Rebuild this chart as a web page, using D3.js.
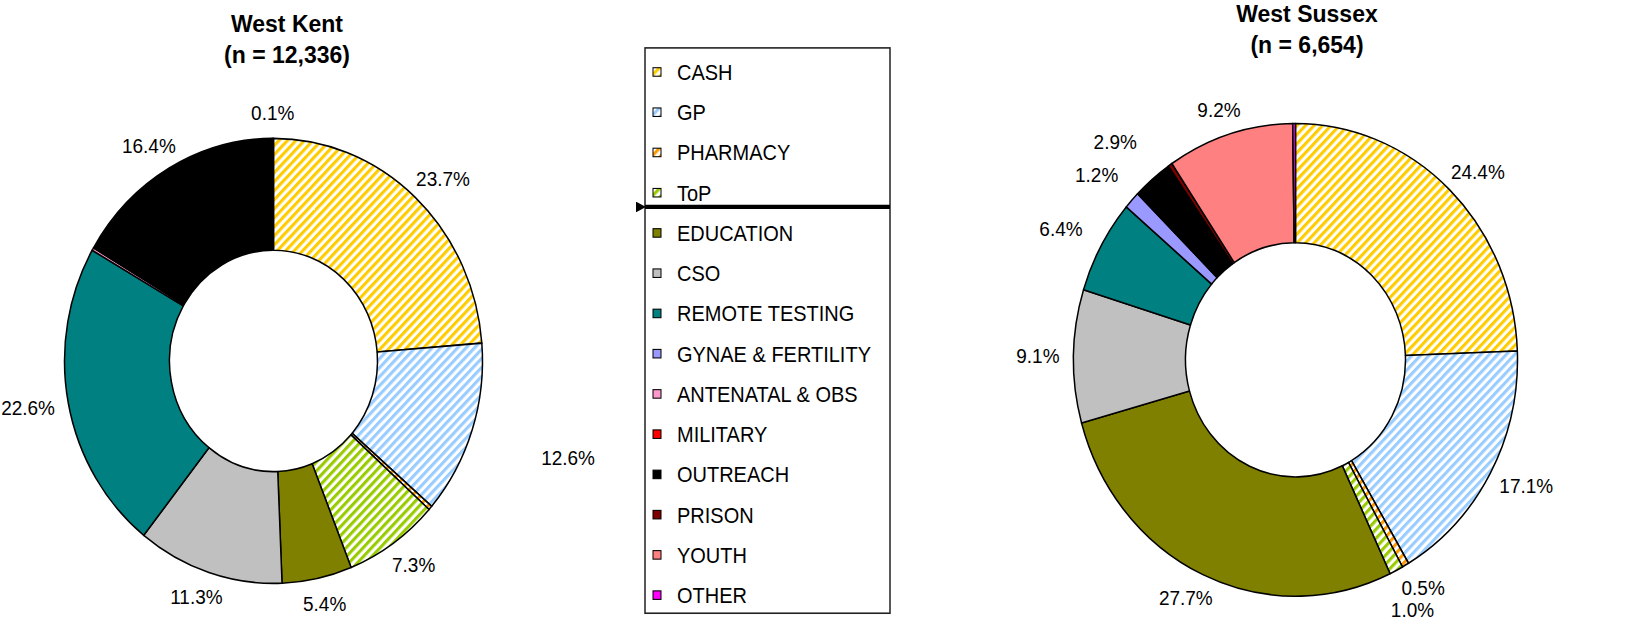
<!DOCTYPE html>
<html>
<head>
<meta charset="utf-8">
<script src="https://cdn.jsdelivr.net/npm/d3@7"></script>
<style>
  body { margin: 0; background: #fff; }
  svg { display: block; font-family: "Liberation Sans", Arial, sans-serif; }
</style>
</head>
<body>
<script>
// categories in legend / pie order
var categories = ["CASH", "GP", "PHARMACY", "ToP", "EDUCATION", "CSO", "REMOTE TESTING",
  "GYNAE & FERTILITY", "ANTENATAL & OBS", "MILITARY", "OUTREACH", "PRISON", "YOUTH", "OTHER"];
var colors = ["#FFCC00", "#99CCFF", "#FF9900", "#99CC00", "#808000", "#C0C0C0", "#008080",
  "#9999FF", "#FF99CC", "#FF0000", "#000000", "#800000", "#FF8080", "#FF00FF"];
var striped = ["CASH", "GP", "PHARMACY", "ToP"];

// percentages
var kentValues   = [23.7, 12.6, 0.3, 7.3, 5.4, 11.3, 22.6, 0, 0.2, 0, 16.4, 0, 0.1, 0];
var sussexValues = [24.4, 17.1, 0.5, 1.0, 27.7, 9.1, 6.4, 1.2, 0, 0, 2.9, 0.3, 9.2, 0.2];
var kentUnlabelled   = ["PHARMACY", "ANTENATAL & OBS"];
var sussexUnlabelled = ["PRISON", "OTHER"];

var width = 1628, height = 626, vbH = 588;

var svg = d3.select("body").append("svg")
    .attr("width", width)
    .attr("height", height)
    .attr("viewBox", "0 0 " + width + " " + vbH)
    .attr("preserveAspectRatio", "none");

var defs = svg.append("defs");
categories.forEach(function(c, i) {
  if (striped.indexOf(c) < 0) return;
  var p = defs.append("pattern")
      .attr("id", "stripe" + i)
      .attr("patternUnits", "userSpaceOnUse")
      .attr("width", 6).attr("height", 6)
      .attr("patternTransform", "rotate(45)");
  p.append("rect").attr("width", 6).attr("height", 6).attr("fill", "#fff");
  p.append("rect").attr("width", 3).attr("height", 6).attr("fill", colors[i]);
});

defs.append("marker")
    .attr("id", "arrowhead")
    .attr("viewBox", "0 0 10 10")
    .attr("refX", 1).attr("refY", 5)
    .attr("markerWidth", 2.5).attr("markerHeight", 2.5)
    .attr("orient", "auto-start-reverse")
  .append("path")
    .attr("d", "M0,5 L10,0 L10,10 Z")
    .attr("fill", "#000");

function fillFor(i) {
  return striped.indexOf(categories[i]) >= 0 ? "url(#stripe" + i + ")" : colors[i];
}

function drawDonut(values, unlabelled, nudges, opt) {
  var g = svg.append("g").attr("transform", "translate(" + opt.cx + "," + opt.cy + ")");

  var data = categories.map(function(c, i) { return { name: c, value: values[i], idx: i }; })
      .filter(function(d) { return d.value > 0; });

  var pie = d3.pie().sort(null).value(function(d) { return d.value; });
  var arc = d3.arc().innerRadius(opt.rIn).outerRadius(opt.rOut);
  var arcs = pie(data);

  g.selectAll("path.slice")
    .data(arcs).enter()
    .append("path")
      .attr("class", "slice")
      .attr("d", arc)
      .attr("fill", function(d) { return fillFor(d.data.idx); })
      .attr("stroke", "#000")
      .attr("stroke-width", 1.5)
      .attr("stroke-linejoin", "round");

  // labels outside the ring
  var placed = [];
  var labH = 21;
  arcs.forEach(function(d) {
    if (unlabelled.indexOf(d.data.name) >= 0) return;
    var a = (d.startAngle + d.endAngle) / 2;
    var ux = Math.sin(a), uy = -Math.cos(a);
    var t = g.append("text")
        .attr("font-size", 19)
        .attr("text-anchor", "middle")
        .attr("fill", "#000")
        .text(d.data.value.toFixed(1) + "%");
    var hw = t.node().getComputedTextLength() / 2;
    var r = opt.rOut + 14 + (nudges[d.data.name] || 0);
    var x = ux * r + ux * hw;
    var y = uy * r + uy * 10;
    placed.forEach(function(p) {
      if (Math.abs(p.x - x) < p.hw + hw && Math.abs(p.y - y) < labH) {
        y = y >= 0 ? p.y + labH : p.y - labH;
      }
    });
    placed.push({ x: x, y: y, hw: hw });
    t.attr("x", x).attr("y", y + 7);
  });

  svg.append("text")
      .attr("x", opt.titleX).attr("y", opt.titleY)
      .attr("text-anchor", "middle")
      .attr("font-size", 23).attr("font-weight", "bold")
      .text(opt.title);
  svg.append("text")
      .attr("x", opt.titleX).attr("y", opt.titleY + 29)
      .attr("text-anchor", "middle")
      .attr("font-size", 23).attr("font-weight", "bold")
      .text(opt.subtitle);
}

drawDonut(kentValues, kentUnlabelled, { "GP": 60 }, {
  cx: 273.5, cy: 339, rOut: 209, rIn: 104,
  title: "West Kent", subtitle: "(n = 12,336)", titleX: 287, titleY: 30
});
drawDonut(sussexValues, sussexUnlabelled, { "REMOTE TESTING": 10, "GYNAE & FERTILITY": 12, "OUTREACH": 22 }, {
  cx: 1295.5, cy: 338, rOut: 222, rIn: 110,
  title: "West Sussex", subtitle: "(n = 6,654)", titleX: 1307, titleY: 21
});

// legend
var legX = 645, legY = 45, legW = 245, legH = 531, rowStep = 37.8, row0 = 67.6;
var legend = svg.append("g");
legend.append("rect")
    .attr("x", legX).attr("y", legY)
    .attr("width", legW).attr("height", legH)
    .attr("fill", "#fff")
    .attr("stroke", "#222")
    .attr("stroke-width", 1.5);

var item = legend.selectAll("g.item")
  .data(categories).enter()
  .append("g")
    .attr("class", "item")
    .attr("transform", function(d, i) { return "translate(0," + (row0 + i * rowStep) + ")"; });
item.append("rect")
    .attr("x", 653).attr("y", -4)
    .attr("width", 8).attr("height", 8)
    .attr("fill", function(d, i) { return fillFor(i); })
    .attr("stroke", "#000")
    .attr("stroke-width", 1);
item.append("text")
    .attr("x", 677).attr("y", 7.5)
    .attr("font-size", 20)
    .attr("fill", "#000")
    .text(function(d) { return d; });

// thick divider line across the legend
legend.append("line")
    .attr("x1", 645).attr("x2", legX + legW)
    .attr("y1", 194.4).attr("y2", 194.4)
    .attr("stroke", "#000")
    .attr("stroke-width", 4)
    .attr("marker-start", "url(#arrowhead)");
</script>
</body>
</html>
